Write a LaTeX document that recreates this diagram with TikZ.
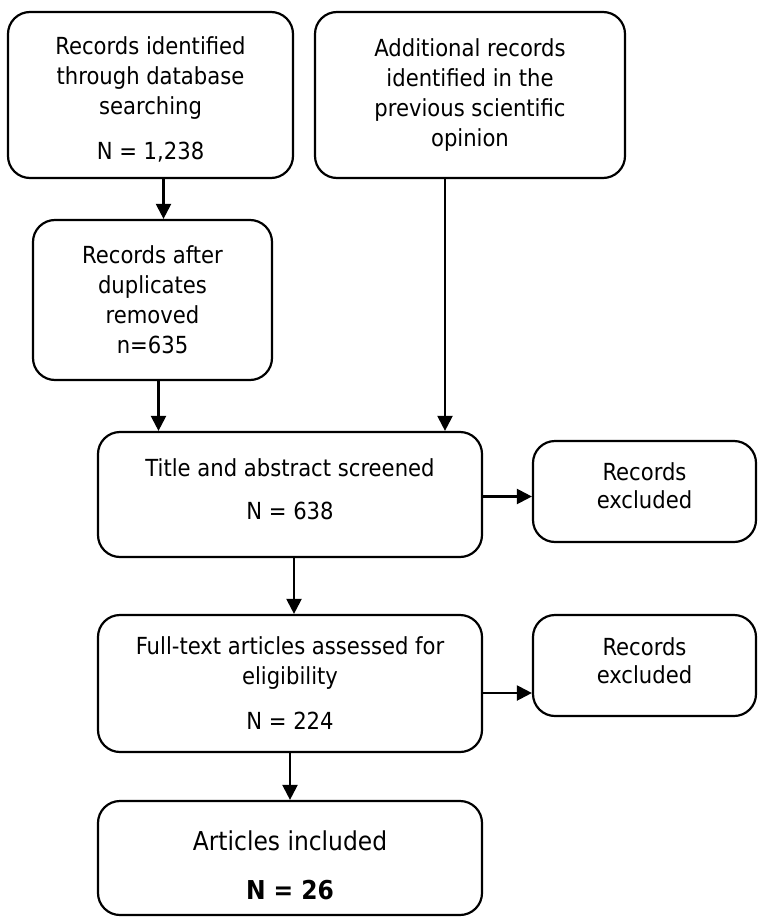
\documentclass[tikz,border=0pt]{standalone}
\usepackage{fontspec}
\setmainfont{DejaVu Sans Condensed}
\usetikzlibrary{arrows.meta,positioning,calc}

\begin{document}
\begin{tikzpicture}[x=1pt, y=-1pt,
    box/.style={draw, line width=2.2pt, rounded corners=22pt, align=center, inner sep=0pt,
      font=\fontsize{23.5}{30}\selectfont},
    arr/.style={-{Triangle[length=15pt,width=15pt]}, line width=2.2pt}]
  \useasboundingbox (0,0) rectangle (757,920);

  % Identification
  \node[box, minimum width=285pt, minimum height=166pt] (ident) at (150.5,95)
    {\mbox{}\\[-4pt]Records identified\\through database\\searching\\[15pt]N = 1,238};
  \node[box, minimum width=310pt, minimum height=166pt] (extra) at (470,95)
    {Additional records\\identified in the\\previous scientific\\opinion};
  \node[box, minimum width=239pt, minimum height=160pt] (dedup) at (152.5,300)
    {Records after\\duplicates\\removed\\n=635};

  % Screening
  \node[box, minimum width=384pt, minimum height=125pt] (screen) at (290,494.5)
    {Title and abstract screened\\[13pt]N = 638\\[-20pt]\mbox{}};
  \node[box, minimum width=223pt, minimum height=101pt] (excl1) at (644.5,491.5)
    {Records\\[-2pt]excluded\\[-18pt]\mbox{}};

  % Eligibility
  \node[box, minimum width=384pt, minimum height=137pt] (elig) at (290,683.5)
    {Full-text articles assessed for\\eligibility\\[15pt]N = 224};
  \node[box, minimum width=223pt, minimum height=101pt] (excl2) at (644.5,665.5)
    {Records\\[-2pt]excluded\\[-21pt]\mbox{}};

  % Included
  \node[box, minimum width=384pt, minimum height=114pt, font=\fontsize{26}{32}\selectfont] (incl) at (290,858)
    {\mbox{}\\[2pt]Articles included\\[17pt]\textbf{N = 26}};

  % Arrows
  \draw[arr] ([xshift=13pt]ident.south) -- ([xshift=11pt]dedup.north);
  \draw[arr] ([xshift=6pt]dedup.south) -- ([xshift=6pt]dedup.south |- screen.north);
  \draw[arr] ([xshift=-25pt]extra.south) -- ([xshift=-25pt]extra.south |- screen.north);
  \draw[arr] ([yshift=-2pt]screen.east) -- ([yshift=-2pt]screen.east -| excl1.west);
  \draw[arr] ([xshift=4pt]screen.south) -- ([xshift=4pt]elig.north);
  \draw[arr] ([yshift=-9.5pt]elig.east) -- ([yshift=-9.5pt]elig.east -| excl2.west);
  \draw[arr] (elig.south) -- (incl.north);
\end{tikzpicture}
\end{document}
